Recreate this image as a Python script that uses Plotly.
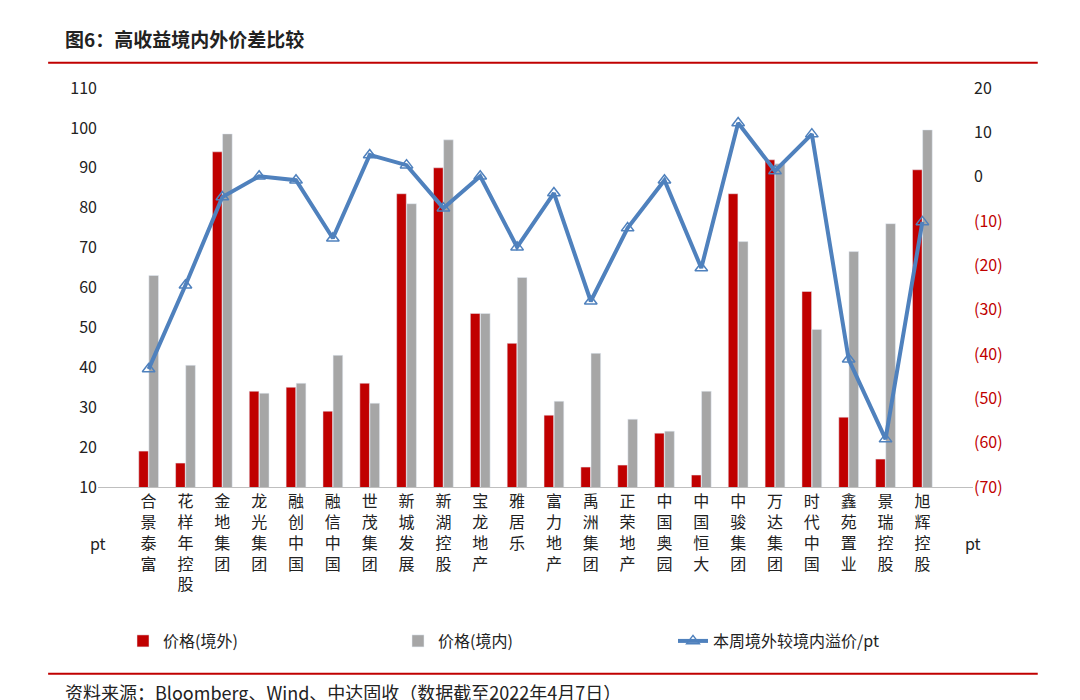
import plotly.graph_objects as go

categories = ["合景泰富","花样年控股","金地集团","龙光集团","融创中国","融信中国","世茂集团","新城发展","新湖控股","宝龙地产","雅居乐","富力地产","禹洲集团","正荣地产","中国奥园","中国恒大","中骏集团","万达集团","时代中国","鑫苑置业","景瑞控股","旭辉控股"]
price_offshore = [19,16,94,34,35,29,36,83.5,90,53.5,46,28,15,15.5,23.5,13,83.5,92,59,27.5,17,89.5]
price_onshore = [63,40.5,98.5,33.5,36,43,31,81,97,53.5,62.5,31.5,43.5,27,24,34,71.5,91,49.5,69,76,99.5]
premium = [-43.4,-24.5,-4.6,0.1,-0.8,-13.9,4.9,2.6,-7.1,0.1,-15.9,-3.7,-28.1,-11.6,-0.8,-20.6,12.1,1.3,9.6,-41.2,-59.2,-10.2]
right_ticks = [20,10,0,-10,-20,-30,-40,-50,-60,-70]

labels = ["<br>".join(list(c)) for c in categories]

fig = go.Figure()
fig.add_bar(x=labels, y=price_offshore, name="价格(境外)", marker_color="#C00000", base=0)
fig.add_bar(x=labels, y=price_onshore, name="价格(境内)", marker_color="#A6A6A6", base=0)
fig.add_scatter(x=labels, y=premium, name="本周境外较境内溢价/pt", yaxis="y2",
                mode="lines+markers", line=dict(color="#4F81BD", width=4),
                marker=dict(symbol="triangle-up-open", size=11, color="#4F81BD", line=dict(width=1.5)))

def fmt(v):
    return str(v) if v >= 0 else f"<span style='color:#C00000'>({-v})</span>"

font = "Noto Sans CJK SC"
fig.update_layout(
    width=1080, height=700, plot_bgcolor="white", paper_bgcolor="white",
    margin=dict(l=90, r=115, t=80, b=221),
    font=dict(family=font, size=16, color="#222"),
    barmode="group", bargap=0.45, bargroupgap=0.05,
    showlegend=True,
    legend=dict(orientation="h", x=0.5, xanchor="center", y=-0.386, yanchor="middle",
                font=dict(size=16), entrywidth=230, entrywidthmode="pixels"),
    xaxis=dict(tickfont=dict(size=16), showline=True, linecolor="#BFBFBF", ticks="", tickangle=0),
    yaxis=dict(range=[10,110], dtick=10, showgrid=False, tickfont=dict(size=16), zeroline=False),
    yaxis2=dict(overlaying="y", side="right", range=[-70,20], tickvals=right_ticks,
                ticktext=[fmt(v) for v in right_ticks], showgrid=False, zeroline=False,
                tickfont=dict(size=16)),
)
fig.add_annotation(text="<b>图6：高收益境内外价差比较</b>", xref="paper", yref="paper", x=-0.04, y=1.125,
                   xanchor="left", yanchor="middle", showarrow=False, font=dict(size=19, family=font))
fig.add_annotation(text="资料来源：Bloomberg、Wind、中达固收（数据截至2022年4月7日）", xref="paper", yref="paper",
                   x=-0.04, y=-0.515, xanchor="left", yanchor="middle", showarrow=False, font=dict(size=18, family=font))
fig.add_annotation(text="pt", xref="paper", yref="paper", x=-0.011, y=-0.175, showarrow=False, font=dict(size=16))
fig.add_annotation(text="pt", xref="paper", yref="paper", x=1.011, y=-0.175, showarrow=False, font=dict(size=16))
fig.add_shape(type="line", xref="paper", yref="paper", x0=-0.057, x1=1.074, y0=1.063, y1=1.063, line=dict(color="#C00000", width=2))
fig.add_shape(type="line", xref="paper", yref="paper", x0=-0.057, x1=1.074, y0=-0.468, y1=-0.468, line=dict(color="#C00000", width=2))
fig.write_html("out.html")
